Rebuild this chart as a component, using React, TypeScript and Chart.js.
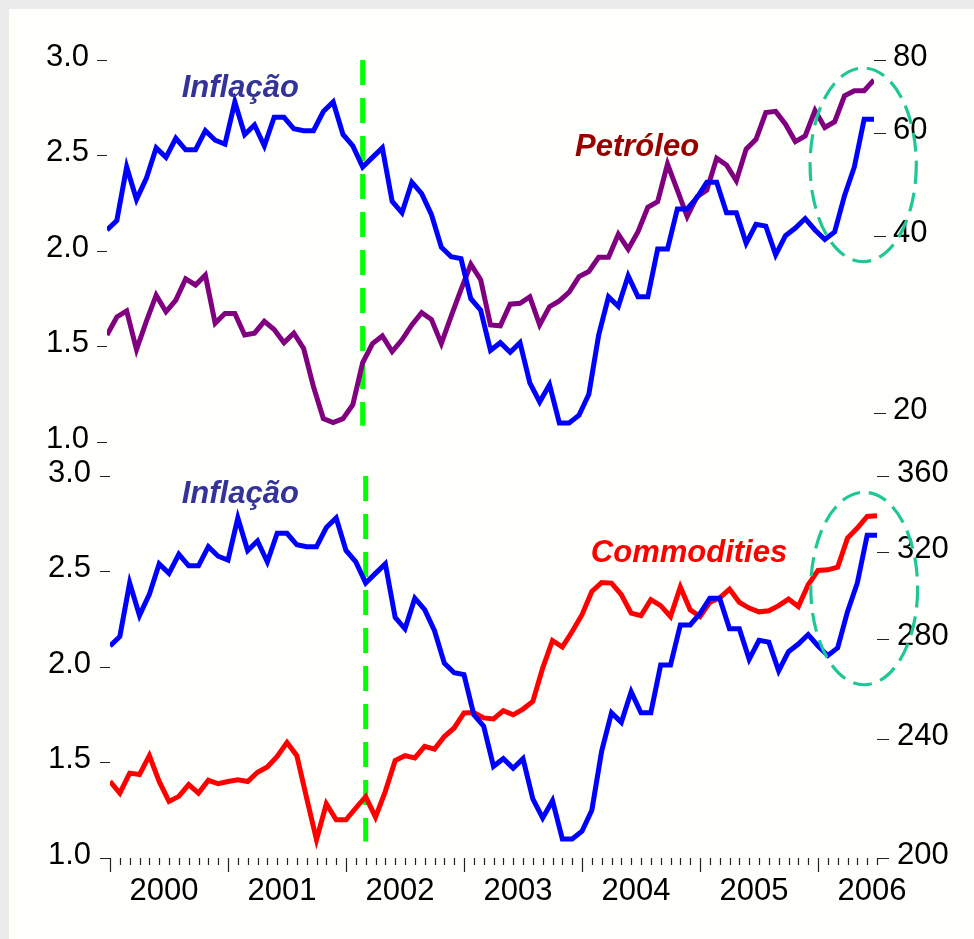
import { useEffect, useRef } from 'react';
import { Chart, registerables } from 'chart.js';

Chart.register(...registerables);

// ---------- data (monthly, Jan 2000 .. Jul 2006) ----------
const years = ['2000', '2001', '2002', '2003', '2004', '2005', '2006'];

const inflacao = [
  2.11, 2.16, 2.44, 2.27, 2.38, 2.54, 2.49, 2.59, 2.53, 2.53,
  2.63, 2.58, 2.56, 2.78, 2.61, 2.66, 2.55, 2.70, 2.70, 2.64,
  2.63, 2.63, 2.73, 2.78, 2.61, 2.55, 2.44, 2.49, 2.54, 2.26,
  2.20, 2.36, 2.30, 2.19, 2.02, 1.97, 1.96, 1.75, 1.69, 1.48,
  1.52, 1.47, 1.52, 1.31, 1.21, 1.30, 1.10, 1.10, 1.14, 1.25,
  1.56, 1.76, 1.71, 1.87, 1.76, 1.76, 2.01, 2.01, 2.22, 2.22,
  2.28, 2.36, 2.36, 2.20, 2.20, 2.04, 2.14, 2.13, 1.98, 2.08,
  2.12, 2.17, 2.11, 2.06, 2.10, 2.29, 2.44, 2.69, 2.69,
];

const petroleo = [
  27.2, 29.2, 29.9, 25.7, 28.7, 31.8, 29.8, 31.2, 33.9, 33.1,
  34.4, 28.5, 29.6, 29.6, 27.2, 27.4, 28.7, 27.8, 26.4, 27.4,
  25.8, 22.2, 19.6, 19.3, 19.6, 20.7, 24.4, 26.3, 27.1, 25.5,
  26.7, 28.3, 29.7, 28.9, 26.3, 29.3, 32.5, 35.9, 33.8, 28.3,
  28.2, 30.7, 30.8, 31.6, 28.3, 30.4, 31.1, 32.2, 34.2, 34.9,
  36.9, 36.9, 40.4, 38.1, 40.8, 44.9, 45.9, 53.2, 48.0, 43.3,
  46.8, 48.0, 54.4, 53.0, 49.8, 56.4, 58.6, 65.1, 65.4, 62.2,
  58.1, 59.4, 65.6, 61.4, 62.8, 69.5, 70.9, 70.9, 74.0,
];

const commodities = [
  225.0, 221.0, 227.9, 227.4, 234.1, 225.0, 218.2, 219.9, 223.9, 221.0,
  225.4, 224.2, 225.0, 225.6, 225.0, 228.2, 230.1, 233.8, 238.9, 234.1,
  219.3, 205.7, 217.4, 212.1, 212.1, 216.0, 219.8, 213.0, 221.6, 232.4,
  234.1, 233.3, 237.5, 236.5, 241.1, 244.3, 250.0, 250.2, 248.1, 247.7,
  250.9, 249.3, 251.5, 254.5, 267.9, 279.5, 276.7, 283.4, 290.8, 301.4,
  305.6, 305.3, 299.9, 291.5, 290.4, 297.6, 294.9, 290.0, 303.5, 293.0,
  290.0, 296.4, 298.4, 302.5, 296.4, 293.8, 292.1, 292.6, 294.9, 297.9,
  294.5, 304.5, 311.3, 311.6, 312.9, 327.2, 332.3, 338.3, 338.6,
];

const leftTicks = [1.0, 1.5, 2.0, 2.5, 3.0];
const petroleoTicks = [20, 40, 60, 80];
const commodityTicks = [200, 240, 280, 320, 360];

const markerMonth = 26; // vertical dashed line

// ---------- styling ----------
const FONT = '"Liberation Sans", Arial, Helvetica, sans-serif';
const BLUE = '#0000ff';
const PURPLE = '#800080';
const RED = '#ff0000';
const GREEN = '#00ff00';
const TEAL = '#1ec896';
const TICK_FONT = 31;

const toPts = (arr: number[]) => arr.map((v, i) => ({ x: i, y: v }));

const overlayPlugin = {
  id: 'overlay',
  beforeDatasetsDraw(chart: any, _a: any, opts: any) {
    const { ctx, scales } = chart;
    const x = scales.x.getPixelForValue(opts.marker.x);
    const y0 = scales.y.getPixelForValue(opts.marker.from);
    const y1 = scales.y.getPixelForValue(opts.marker.to);
    ctx.save();
    ctx.strokeStyle = GREEN;
    ctx.lineWidth = 5;
    ctx.setLineDash([25, 13]);
    ctx.beginPath();
    ctx.moveTo(x, y0);
    ctx.lineTo(x, y1);
    ctx.stroke();
    ctx.restore();
  },
  afterDatasetsDraw(chart: any, _a: any, opts: any) {
    const { ctx, scales, chartArea } = chart;
    const xs = scales.x;
    const ys = scales.y;
    // ellipse
    const e = opts.ellipse;
    const cx = xs.getPixelForValue(e.cx);
    const cy = ys.getPixelForValue(e.cy);
    const rx = Math.abs(xs.getPixelForValue(e.cx + e.rx) - cx);
    const ry = Math.abs(ys.getPixelForValue(e.cy + e.ry) - cy);
    ctx.save();
    ctx.strokeStyle = TEAL;
    ctx.lineWidth = 3.2;
    ctx.setLineDash([19, 9]);
    ctx.beginPath();
    ctx.ellipse(cx, cy, rx, ry, 0, 0, Math.PI * 2);
    ctx.stroke();
    ctx.restore();
    // labels
    ctx.save();
    ctx.font = `italic bold 31px ${FONT}`;
    ctx.textAlign = 'left';
    ctx.textBaseline = 'alphabetic';
    for (const l of opts.labels) {
      ctx.fillStyle = l.color;
      ctx.fillText(l.text, xs.getPixelForValue(l.x), ys.getPixelForValue(l.y));
    }
    ctx.restore();
    // monthly time axis
    if (opts.timeAxis) {
      const b = chartArea.bottom;
      ctx.save();
      ctx.strokeStyle = '#222';
      ctx.lineWidth = 1.2;
      ctx.beginPath();
      for (let i = 0; i < inflacao.length; i++) {
        const px = Math.round(xs.getPixelForValue(i)) + 0.5;
        const len = i % 12 === 0 ? 14 : 7;
        ctx.moveTo(px, b);
        ctx.lineTo(px, b + len);
      }
      ctx.stroke();
      ctx.fillStyle = '#000';
      ctx.font = `${TICK_FONT}px ${FONT}`;
      ctx.textAlign = 'center';
      ctx.textBaseline = 'middle';
      years.forEach((yr, n) => {
        ctx.fillText(yr, xs.getPixelForValue(12 * n + 5.5), b + 33);
      });
      ctx.restore();
    }
  },
};

function makeConfig(p: any): any {
  return {
    type: 'line',
    data: {
      datasets: p.datasets.map((d: any) => ({
        label: d.label,
        data: toPts(d.data),
        yAxisID: d.axis,
        borderColor: d.color,
        backgroundColor: d.color,
        borderWidth: 5,
        pointRadius: 0,
        tension: 0,
        fill: false,
      })),
    },
    options: {
      responsive: false,
      animation: false,
      devicePixelRatio: 1,
      layout: { padding: { top: p.padTop, bottom: p.padBottom, left: 0, right: 0 } },
      plugins: {
        legend: { display: false },
        tooltip: { enabled: false },
        overlay: p.overlay,
      },
      scales: {
        x: { type: 'linear', display: false, min: 0, max: inflacao.length - 1 },
        y: {
          type: 'linear',
          position: 'left',
          min: 1,
          max: 3,
          bounds: 'data',
          afterBuildTicks: (s: any) => {
            s.ticks = leftTicks.map((v) => ({ value: v }));
          },
          afterFit: (s: any) => {
            s.width = p.leftWidth;
          },
          grid: { drawOnChartArea: false, drawTicks: true, tickLength: 10, color: '#222', lineWidth: 1 },
          border: { display: false },
          ticks: {
            autoSkip: false,
            padding: p.leftPad,
            color: '#000',
            labelOffset: -3,
            font: { family: FONT, size: TICK_FONT },
            callback: (v: any) => Number(v).toFixed(1),
          },
        },
        y1: {
          type: 'logarithmic',
          position: 'right',
          min: p.rightMin,
          max: p.rightMax,
          bounds: 'data',
          afterBuildTicks: (s: any) => {
            s.ticks = p.rightTicks.map((v: number) => ({ value: v }));
          },
          afterFit: (s: any) => {
            s.width = p.rightWidth;
          },
          grid: { drawOnChartArea: false, drawTicks: true, tickLength: 12, color: '#222', lineWidth: 1 },
          border: { display: false },
          ticks: {
            autoSkip: false,
            padding: p.rightPad,
            color: '#000',
            labelOffset: -3,
            font: { family: FONT, size: TICK_FONT },
            callback: (v: any) => String(Math.round(Number(v))),
          },
        },
      },
    },
    plugins: [overlayPlugin],
  };
}

const topSpec = {
  padTop: 51,
  padBottom: 47,
  leftWidth: 98,
  rightWidth: 100,
  leftPad: 8,
  rightPad: 7,
  rightMin: 17.88,
  rightMax: 80,
  rightTicks: petroleoTicks,
  datasets: [
    { label: 'Inflação', data: inflacao, axis: 'y', color: BLUE },
    { label: 'Petróleo', data: petroleo, axis: 'y1', color: PURPLE },
  ],
  overlay: {
    marker: { x: markerMonth, from: 3.0, to: 1.085 },
    ellipse: { cx: 76.9, cy: 2.451, rx: 5.4, ry: 0.507 },
    labels: [
      { text: 'Inflação', x: 7.6, y: 2.808, color: '#333399' },
      { text: 'Petróleo', x: 47.6, y: 2.498, color: '#990000' },
    ],
    timeAxis: false,
  },
};

const bottomSpec = {
  padTop: 46,
  padBottom: 81,
  leftWidth: 101,
  rightWidth: 97,
  leftPad: 9,
  rightPad: 8,
  rightMin: 200,
  rightMax: 360,
  rightTicks: commodityTicks,
  datasets: [
    { label: 'Inflação', data: inflacao, axis: 'y', color: BLUE },
    { label: 'Commodities', data: commodities, axis: 'y1', color: RED },
  ],
  overlay: {
    marker: { x: markerMonth, from: 3.0, to: 1.087 },
    ellipse: { cx: 76.7, cy: 2.411, rx: 5.43, ry: 0.504 },
    labels: [
      { text: 'Inflação', x: 7.29, y: 2.857, color: '#333399' },
      { text: 'Commodities', x: 48.9, y: 2.548, color: RED },
    ],
    timeAxis: true,
  },
};

export default function App() {
  const topRef = useRef<HTMLCanvasElement>(null);
  const botRef = useRef<HTMLCanvasElement>(null);

  useEffect(() => {
    const top = new Chart(topRef.current as HTMLCanvasElement, makeConfig(topSpec));
    const bot = new Chart(botRef.current as HTMLCanvasElement, makeConfig(bottomSpec));
    return () => {
      top.destroy();
      bot.destroy();
    };
  }, []);

  return (
    <div style={{ position: 'fixed', left: 0, top: 0, right: 0, bottom: 0, background: '#ebebeb' }}>
      <div
        style={{
          position: 'absolute',
          left: 9,
          top: 9,
          right: 0,
          bottom: 0,
          background: '#fefefa',
          overflow: 'hidden',
        }}
      >
        <canvas
          ref={botRef}
          width={965}
          height={509}
          style={{ position: 'absolute', left: 0, top: 421, width: 965, height: 509 }}
        />
        <canvas
          ref={topRef}
          width={965}
          height={480}
          style={{ position: 'absolute', left: 0, top: 0, width: 965, height: 480 }}
        />
      </div>
    </div>
  );
}
